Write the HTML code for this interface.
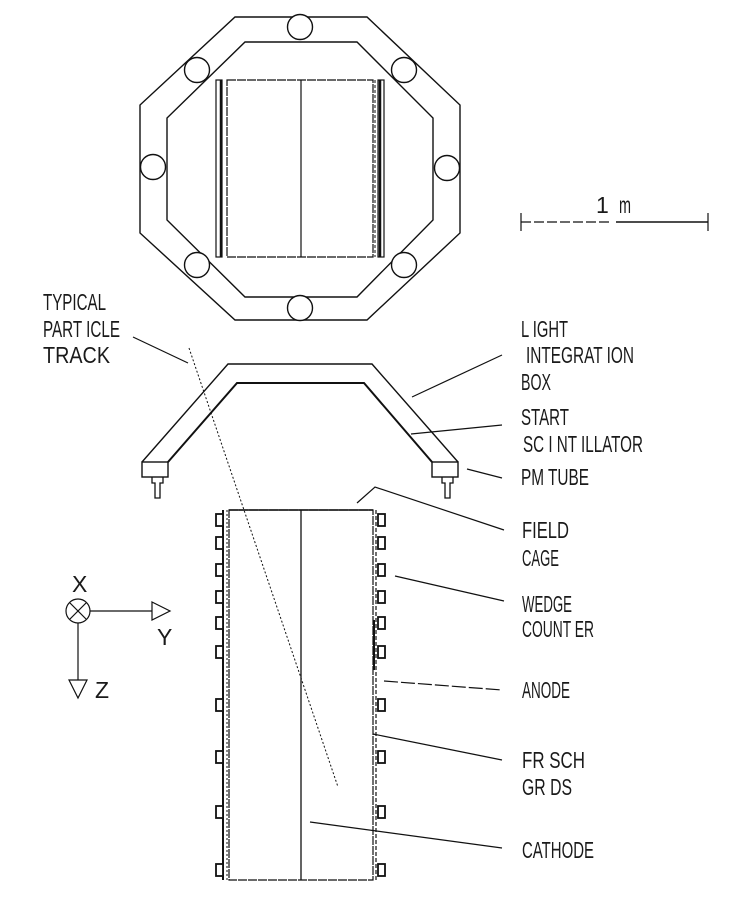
<!DOCTYPE html>
<html><head><meta charset="utf-8"><style>
html,body{margin:0;padding:0;background:#fff;}
svg{display:block;}
text{font-family:"Liberation Sans",sans-serif;font-size:23px;fill:#1a1a1a;}
</style></head><body>
<svg width="733" height="900" viewBox="0 0 733 900" xmlns="http://www.w3.org/2000/svg">
<g fill="none" stroke="#111" stroke-width="1.4">
<polygon points="235,17 367,17 460,105 460,233 367,320 235,320 140,233 140,105"/>
<polygon points="245,42 357,42 433,118 433,220 357,297 245,297 167,220 167,118"/>
</g>
<g fill="#fff" stroke="#111" stroke-width="1.4">
<circle cx="300" cy="27" r="12.5"/><circle cx="300" cy="308" r="12.5"/>
<circle cx="153" cy="167" r="12.5"/><circle cx="447" cy="168" r="12.5"/>
<circle cx="197" cy="70" r="12.5"/><circle cx="404" cy="70" r="12.5"/>
<circle cx="197" cy="265" r="12.5"/><circle cx="404" cy="265" r="12.5"/>
</g>
<g fill="none" stroke="#111">
<rect x="227" y="80" width="146" height="177" stroke-width="1.2" stroke-dasharray="9,1"/>
<line x1="301" y1="80" x2="301" y2="257" stroke-width="1.2"/>
<rect x="216" y="80" width="6" height="177" stroke-width="1.2"/>
<line x1="221" y1="80" x2="221" y2="257" stroke-width="2.5"/>
<rect x="378" y="80" width="6" height="177" stroke-width="1.2"/>
<line x1="380" y1="80" x2="380" y2="257" stroke-width="2.5"/>
<line x1="375" y1="80" x2="375" y2="257" stroke-width="1" stroke-dasharray="3,2"/>
<polyline points="142,462 228,364 372,364 458,462" stroke-width="1.4"/>
<polyline points="168,462 237,383 364,383 432,462" stroke-width="2"/>
<rect x="142" y="462" width="26" height="15" stroke-width="1.4"/>
<rect x="432" y="462" width="26" height="15" stroke-width="1.4"/>
<polyline points="152,477 152,483 155,483 155,498 160,498 160,483 163,483 163,477" stroke-width="1.3"/>
<polyline points="442,477 442,483 445,483 445,498 450,498 450,483 453,483 453,477" stroke-width="1.3"/>
<rect x="229" y="510" width="144" height="370" stroke-width="1.2" stroke-dasharray="9,1"/>
<line x1="229" y1="510" x2="373" y2="510" stroke-width="1.6"/>
<line x1="301" y1="510" x2="301" y2="880" stroke-width="1.3"/>
<line x1="223" y1="510" x2="223" y2="880" stroke-width="2"/>
<line x1="227" y1="510" x2="227" y2="880" stroke-width="1" stroke-dasharray="2,2"/>
<line x1="376" y1="510" x2="376" y2="880" stroke-width="1.2" stroke-dasharray="4,2"/>
<line x1="374" y1="620" x2="374" y2="670" stroke-width="2"/>
</g>
<g fill="#fff" stroke="#111" stroke-width="1.8">
<rect x="216" y="514" width="7" height="12"/><rect x="216" y="537" width="7" height="12"/>
<rect x="216" y="564" width="7" height="12"/><rect x="216" y="591" width="7" height="12"/>
<rect x="216" y="617" width="7" height="12"/><rect x="216" y="646" width="7" height="12"/>
<rect x="216" y="699" width="7" height="12"/><rect x="216" y="751" width="7" height="12"/>
<rect x="216" y="806" width="7" height="12"/><rect x="216" y="864" width="7" height="12"/>
<rect x="378" y="514" width="7" height="12"/><rect x="378" y="537" width="7" height="12"/>
<rect x="378" y="564" width="7" height="12"/><rect x="378" y="591" width="7" height="12"/>
<rect x="378" y="617" width="7" height="12"/><rect x="378" y="646" width="7" height="12"/>
<rect x="378" y="699" width="7" height="12"/><rect x="378" y="751" width="7" height="12"/>
<rect x="378" y="806" width="7" height="12"/><rect x="378" y="864" width="7" height="12"/>
</g>
<g fill="none" stroke="#111" stroke-width="1.2">
<line x1="189" y1="348" x2="338" y2="787" stroke-dasharray="2,2" stroke-width="1"/>
<line x1="133" y1="337" x2="188" y2="363"/>
<line x1="412" y1="397" x2="502" y2="355"/>
<line x1="411" y1="434" x2="502" y2="425"/>
<line x1="467" y1="469" x2="502" y2="478"/>
<polyline points="357,503 375,487 504,530"/>
<line x1="395" y1="576" x2="504" y2="601"/>
<line x1="384" y1="681" x2="502" y2="690" stroke-dasharray="14,3"/>
<line x1="373" y1="734" x2="502" y2="760"/>
<line x1="310" y1="822" x2="502" y2="848"/>
<line x1="521" y1="222" x2="612" y2="222" stroke-dasharray="10,3"/>
<line x1="616" y1="222" x2="708" y2="222" stroke-width="1.6"/>
<line x1="521" y1="213" x2="521" y2="231"/>
<line x1="708" y1="213" x2="708" y2="231"/>
<circle cx="78" cy="611" r="12"/>
<line x1="70" y1="603" x2="86" y2="619"/><line x1="86" y1="603" x2="70" y2="619"/>
<line x1="90" y1="611" x2="152" y2="611"/>
<polygon points="152,602 170,611 152,620"/>
<line x1="78" y1="623" x2="78" y2="680"/>
<polygon points="69,680 87,680 78,698"/>
</g>
<g>
<text x="43" y="310" textLength="63" lengthAdjust="spacingAndGlyphs">TYPICAL</text>
<text x="43" y="337" textLength="77" lengthAdjust="spacingAndGlyphs">PART ICLE</text>
<text x="43" y="363" textLength="67" lengthAdjust="spacingAndGlyphs">TRACK</text>
<text x="521" y="337" textLength="47" lengthAdjust="spacingAndGlyphs">L IGHT</text>
<text x="526" y="363" textLength="108" lengthAdjust="spacingAndGlyphs">INTEGRAT ION</text>
<text x="521" y="390" textLength="30" lengthAdjust="spacingAndGlyphs">BOX</text>
<text x="521" y="425" textLength="48" lengthAdjust="spacingAndGlyphs">START</text>
<text x="523" y="452" textLength="120" lengthAdjust="spacingAndGlyphs">SC I NT ILLATOR</text>
<text x="521" y="485" textLength="68" lengthAdjust="spacingAndGlyphs">PM TUBE</text>
<text x="522" y="538" textLength="47" lengthAdjust="spacingAndGlyphs">FIELD</text>
<text x="522" y="566" textLength="37" lengthAdjust="spacingAndGlyphs">CAGE</text>
<text x="522" y="612" textLength="50" lengthAdjust="spacingAndGlyphs">WEDGE</text>
<text x="522" y="637" textLength="72" lengthAdjust="spacingAndGlyphs">COUNT ER</text>
<text x="522" y="698" textLength="48" lengthAdjust="spacingAndGlyphs">ANODE</text>
<text x="522" y="768" textLength="63" lengthAdjust="spacingAndGlyphs">FR SCH</text>
<text x="522" y="795" textLength="50" lengthAdjust="spacingAndGlyphs">GR DS</text>
<text x="522" y="858" textLength="72" lengthAdjust="spacingAndGlyphs">CATHODE</text>
<text x="596" y="213" font-size="20">1</text>
<text x="619" y="213" font-size="18" textLength="12" lengthAdjust="spacingAndGlyphs">m</text>
<text x="72" y="592" font-size="19">X</text>
<text x="157" y="645" font-size="19">Y</text>
<text x="95" y="698" font-size="19">Z</text>
</g>
</svg>
</body></html>
